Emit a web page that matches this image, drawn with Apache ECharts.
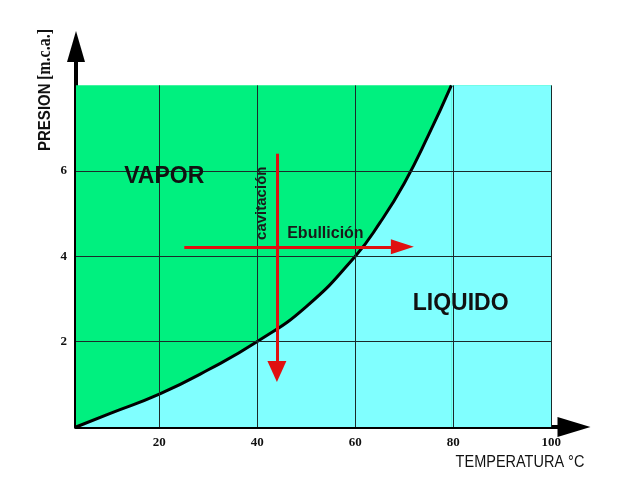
<!DOCTYPE html>
<html><head><meta charset="utf-8">
<script src="https://cdn.jsdelivr.net/npm/echarts@6/dist/echarts.min.js"></script>
<style>html,body{margin:0;padding:0;background:#fff}#c{width:641px;height:488px}</style>
</head><body><div id="c"></div>
<script>
// ---- data ----
const temperatura = [3, 10, 20, 30, 40, 50, 60, 65, 70, 75, 79.6];
const presion     = [0, 0.32, 0.77, 1.34, 2.0, 2.82, 4.0, 4.78, 5.71, 6.85, 8.0];
const xTicks = [20, 40, 60, 80, 100];
const yTicks = [2, 4, 6];
const tMin = 3, tMax = 100, pMin = 0, pMax = 8;
const cavitacionArrow = [[44, 6.4], [44, 1.3]];
const ebullicionArrow = [[25.1, 4.22], [69.6, 4.22]];
const labelVapor = [21, 5.86];
const labelLiquido = [81.5, 2.88];
const labelCavitacion = [41, 5.24];
const labelEbullicion = [53.9, 4.52];

const GREEN = '#00f07f', CYAN = '#80ffff', RED = '#e01010';
const curve = temperatura.map((t, i) => [t, presion[i]]);
const curveEndT = temperatura[temperatura.length - 1];
const gridLines = xTicks.map(x => [{coord: [x, pMin]}, {coord: [x, pMax]}])
  .concat(yTicks.map(y => [{coord: [tMin, y]}, {coord: [tMax, y]}]));

const chart = echarts.init(document.getElementById('c'), null, {renderer: 'canvas'});
const numFont = {fontFamily: '"Liberation Serif", serif', fontWeight: 'bold', fontSize: 13, color: '#111'};
const SMOOTH = 0.5;
chart.setOption({
  animation: false,
  grid: {left: 76, right: 67, top: 46.5, bottom: 61},
  xAxis: {
    type: 'value', min: tMin, max: 104.63,
    axisLine: {onZero: false, lineStyle: {color: '#000', width: 4}, symbol: ['none', 'triangle'], symbolSize: [20, 33]},
    axisTick: {show: false}, splitLine: {show: false},
    axisLabel: Object.assign({customValues: xTicks, margin: 9}, numFont)
  },
  yAxis: {
    type: 'value', min: pMin, max: 8.91,
    axisLine: {onZero: false, lineStyle: {color: '#000', width: 4}, symbol: ['none', 'triangle'], symbolSize: [18, 31]},
    axisTick: {show: false}, splitLine: {show: false},
    axisLabel: Object.assign({customValues: yTicks, margin: 9}, numFont)
  },
  series: [
    {type: 'line', data: [], z: 1, silent: true,
     markArea: {silent: true, itemStyle: {color: GREEN}, data: [[{coord: [tMin, pMin]}, {coord: [tMax, pMax]}]]}},
    {type: 'line', data: curve, z: 2, smooth: SMOOTH, symbol: 'none', silent: true,
     lineStyle: {width: 0, opacity: 0}, areaStyle: {color: CYAN, opacity: 1, origin: 'start'},
     markArea: {silent: true, itemStyle: {color: CYAN}, data: [[{coord: [curveEndT, pMin]}, {coord: [tMax, pMax]}]]}},
    {type: 'line', data: [], z: 3, silent: true,
     markLine: {silent: true, symbol: ['none', 'none'], label: {show: false},
       lineStyle: {color: '#1b2a2a', width: 1, type: 'solid'}, data: gridLines}},
    {type: 'line', data: curve, z: 4, smooth: SMOOTH, symbol: 'none', silent: true,
     lineStyle: {color: '#000', width: 3}},
    {type: 'line', data: [], z: 5, silent: true,
     markLine: {silent: true, symbol: ['none', 'triangle'], label: {show: false},
       itemStyle: {color: RED},
       lineStyle: {color: RED, width: 3, type: 'solid'},
       data: [
         [{coord: cavitacionArrow[0]}, {coord: cavitacionArrow[1], symbolSize: [19, 21]}],
         [{coord: ebullicionArrow[0]}, {coord: ebullicionArrow[1], symbolSize: [15, 23]}]
       ]}}
  ]
});

const px = p => chart.convertToPixel({gridIndex: 0}, p);
const sans = '"Liberation Sans", Arial, sans-serif';
const pV = px(labelVapor), pL = px(labelLiquido), pC = px(labelCavitacion), pE = px(labelEbullicion);
chart.setOption({
  graphic: [
    {type: 'text', x: pV[0], y: pV[1], z: 10, style: {text: 'VAPOR', fontFamily: sans, fontWeight: 'bold', fontSize: 23, fill: '#111', align: 'center', verticalAlign: 'middle'}},
    {type: 'text', x: pL[0], y: pL[1], z: 10, style: {text: 'LIQUIDO', fontFamily: sans, fontWeight: 'bold', fontSize: 23, fill: '#111', align: 'center', verticalAlign: 'middle'}},
    {type: 'text', x: pC[0], y: pC[1], z: 10, rotation: Math.PI / 2, style: {text: 'cavitación', fontFamily: sans, fontWeight: 'bold', fontSize: 15, fill: '#1a1a1a', align: 'center', verticalAlign: 'middle'}},
    {type: 'text', x: pE[0], y: pE[1], z: 10, style: {text: 'Ebullición', fontFamily: sans, fontWeight: 'bold', fontSize: 16, fill: '#1a1a1a', align: 'center', verticalAlign: 'middle'}},
    {type: 'text', x: 45, y: 90, z: 10, rotation: Math.PI / 2, scaleY: 1.15,
     style: {text: '{a|PRESION} {b|[m.c.a.]}', align: 'center', verticalAlign: 'middle',
       rich: {a: {fontFamily: sans, fontWeight: 'bold', fontSize: 15, fill: '#111'},
              b: {fontFamily: '"Liberation Serif", serif', fontWeight: 'bold', fontSize: 16, fill: '#111'}}}},
    {type: 'text', x: 520, y: 462, z: 10, scaleY: 1.15,
     style: {text: 'TEMPERATURA °C', fontFamily: sans, fontSize: 14.5, fill: '#111', align: 'center', verticalAlign: 'middle'}}
  ]
});
</script>
</body></html>
